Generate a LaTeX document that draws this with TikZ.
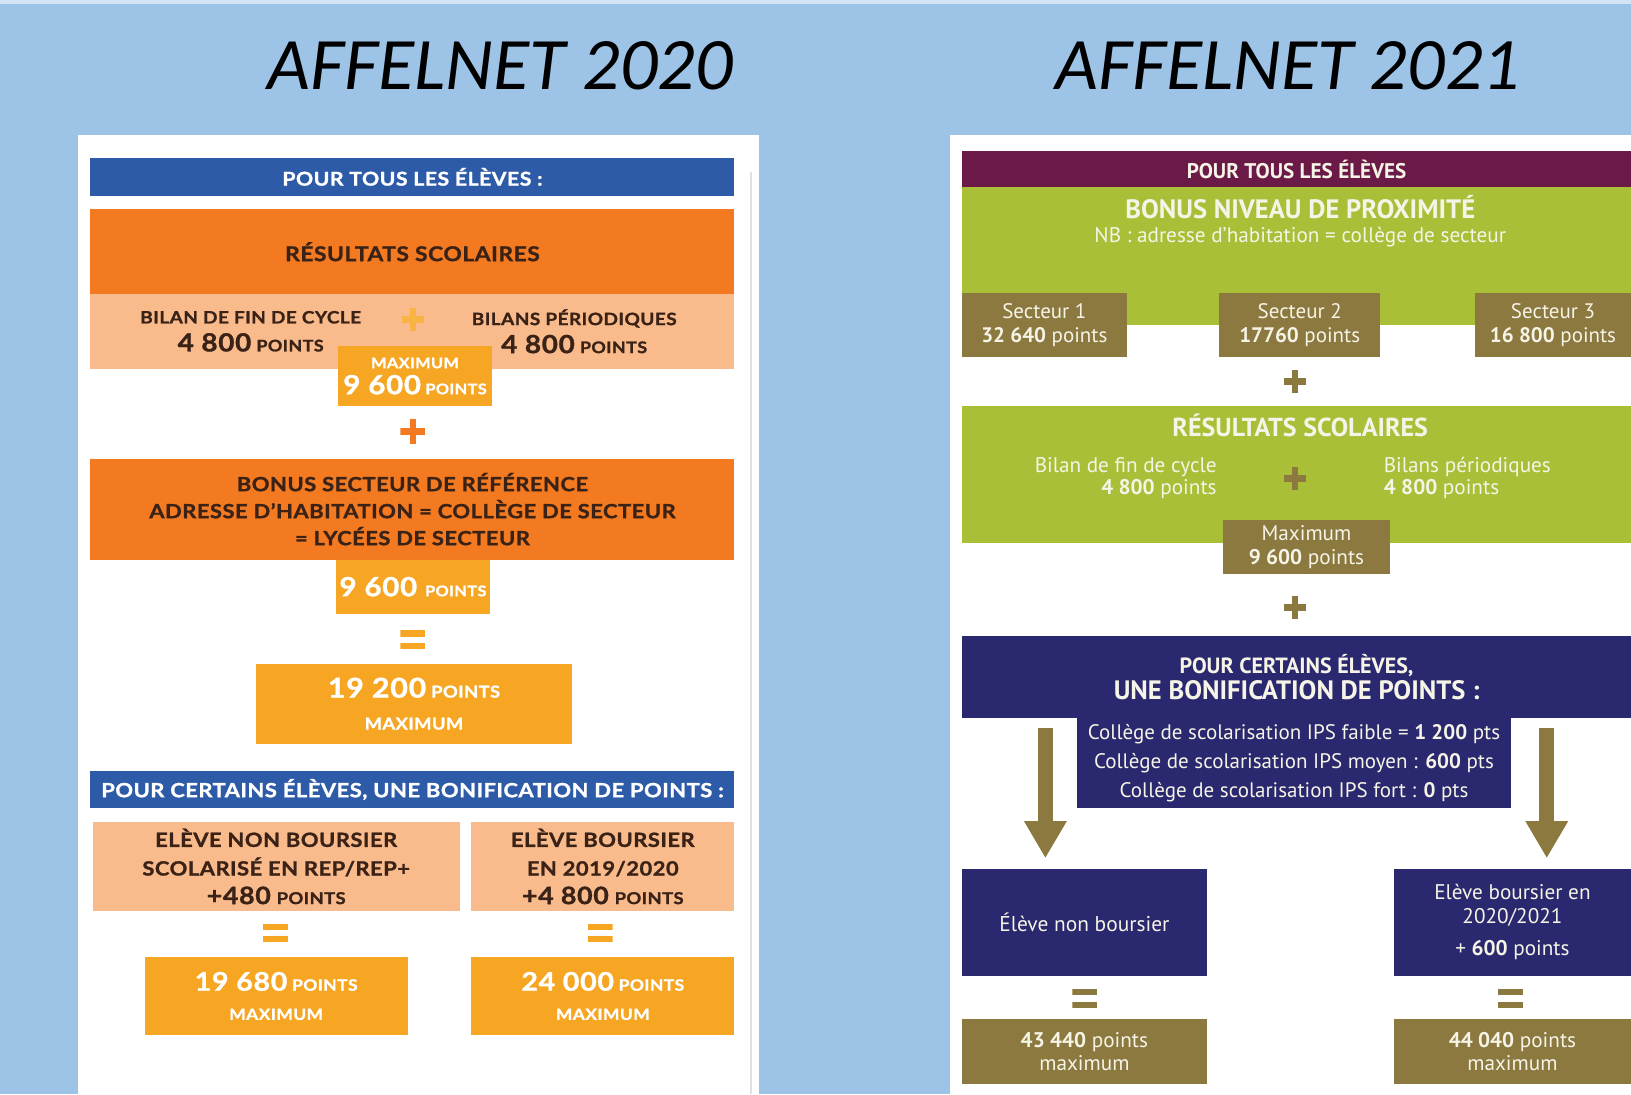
\documentclass[tikz,border=0pt]{standalone}
\usepackage{fontspec}
\setmainfont{Lato}
\newfontfamily\lfont{Lato}[FakeStretch=1.12, LetterSpace=2.5, BoldFeatures={FakeBold=1.2}]
\newfontfamily\rfont{PT Sans}
\newfontfamily\tfont{Carlito}
\usetikzlibrary{arrows.meta}

\definecolor{bgblue}{HTML}{9DC3E6}
\definecolor{lblue}{HTML}{2E5BA8}
\definecolor{lorange}{HTML}{F37A21}
\definecolor{lpeach}{HTML}{F9BB8C}
\definecolor{lyellow}{HTML}{F6A623}
\definecolor{ltext}{HTML}{3A2216}
\definecolor{rmaroon}{HTML}{6B1A48}
\definecolor{rgreen}{HTML}{A9BF38}
\definecolor{rolive}{HTML}{8B7940}
\definecolor{rnavy}{HTML}{2A286E}
\definecolor{rtext}{HTML}{F6F4E6}

\newcommand\mkbox[6]{\node[bx,#2,minimum width={(#5-#3)*0.5201pt},minimum height={(#6-#4)*0.5201pt}] (#1) at ({(#3+#5)/2},{(#4+#6)/2})}
\newcommand\setlf[2]{\lfont\bfseries\fontsize{#1}{#2}\selectfont}
\newcommand\setrf[2]{\rfont\fontsize{#1}{#2}\selectfont}
\newcommand\PTS[1]{{\fontsize{#1}{#1}\selectfont POINTS}}
\newcommand\bigsz[2]{{\fontsize{#1}{#1}\selectfont #2}}

\tikzset{
  bx/.style={inner sep=0pt, outer sep=0pt, align=center},
  lt/.style={inner sep=0pt, align=center, text=ltext},
  rt/.style={inner sep=0pt, text=rtext},
  plussign/.style={minimum width={#1*0.5201pt}, minimum height={#1*0.5201pt}, inner sep=0pt},
  pluscol/.style={path picture={
     \fill[#1] ([yshift=1.7pt]path picture bounding box.west) rectangle ([yshift=-1.7pt]path picture bounding box.east);
     \fill[#1] ([xshift=-1.7pt]path picture bounding box.north) rectangle ([xshift=1.7pt]path picture bounding box.south);}},
  eqsign/.style={minimum width={24*0.5201pt}, minimum height={18*0.5201pt}, inner sep=0pt},
  eqcol/.style={path picture={
     \fill[#1] (path picture bounding box.north west) rectangle ([yshift=1.6pt]path picture bounding box.east);
     \fill[#1] ([yshift=-1.6pt]path picture bounding box.west) rectangle (path picture bounding box.south east);}},
  bigarrow/.style={draw=rolive, line width=7.3pt, -{Triangle[width=20pt,length=18.5pt]}, shorten >=5.2pt}
}

\begin{document}
\begin{tikzpicture}[x=0.5201pt, y=-0.5201pt]
\useasboundingbox (0,0) rectangle (1568,1052);
\fill[bgblue] (0,0) rectangle (1568,1052);
\fill[bgblue!45!white] (0,0) rectangle (1568,4);
\fill[white] (75,130) rectangle (730,1052);
\draw[black!12, line width=1pt] (722,165) -- (722,1052);
\fill[white] (913,130) rectangle (1568,1052);

% titles
\node[font=\tfont\itshape\fontsize{37}{40}\selectfont] (title1) at (481,63) {AFFELNET 2020};
\node[font=\tfont\itshape\fontsize{37}{40}\selectfont] (title2) at (1238,63) {AFFELNET 2021};

% ================= LEFT =================
\mkbox{lhead1}{fill=lblue, text=white, font=\setlf{9.5}{12}}{87}{152}{706}{188}{POUR TOUS LES ÉLÈVES :};
\mkbox{lres}{fill=lorange, text=ltext, font=\setlf{10.2}{12}}{87}{201}{706}{283}{RÉSULTATS SCOLAIRES};
\mkbox{lpeach1}{fill=lpeach}{87}{283}{706}{355}{};
\node[lt, font=\setlf{8.5}{14}] (lbil1) at (241,318.5) {BILAN DE FIN DE CYCLE\\\bigsz{12.5}{4 800} \PTS{8}};
\node[lt, font=\setlf{8.5}{14}] (lbil2) at (552,318.5) {BILANS PÉRIODIQUES\\\bigsz{12.5}{4 800} \PTS{8}};
\node[plussign=22, pluscol=lyellow!85!white] (lplus0) at (397,307) {};
\mkbox{lmax}{fill=lyellow, text=white, font=\setlf{7.3}{13}}{325}{333}{473}{390}{MAXIMUM\\\bigsz{13.2}{9 600} \PTS{7.3}};
\node[plussign=24, pluscol=lorange] (lplus1) at (397,415) {};
\mkbox{lbonus}{fill=lorange, text=ltext, font=\setlf{9.8}{13.5}}{87}{441}{706}{538}{BONUS SECTEUR DE RÉFÉRENCE\\ADRESSE D’HABITATION = COLLÈGE DE SECTEUR\\= LYCÉES DE SECTEUR};
\mkbox{l9600}{fill=lyellow, text=white, font=\setlf{13.2}{14}}{323}{538}{471}{590}{9 600 \PTS{7.3}};
\node[eqsign, eqcol=lyellow] (leq1) at (397,615) {};
\mkbox{ltot}{fill=lyellow, text=white, font=\setlf{8.2}{16}}{246}{638}{550}{715}{\bigsz{13.6}{19 200} \PTS{8.2}\\MAXIMUM};
\mkbox{lhead2}{fill=lblue, text=white, font=\setlf{9.8}{12}}{87}{741}{706}{777}{POUR CERTAINS ÉLÈVES, UNE BONIFICATION DE POINTS :};
\mkbox{lnb}{fill=lpeach, text=ltext, font=\setlf{9.8}{14.3}}{89}{790}{442}{876}{ELÈVE NON BOURSIER\\SCOLARISÉ EN REP/REP+\\\bigsz{12}{+480} \PTS{8.2}};
\mkbox{lbo}{fill=lpeach, text=ltext, font=\setlf{9.8}{14.3}}{453}{790}{706}{876}{ELÈVE BOURSIER\\EN 2019/2020\\\bigsz{12}{+4 800} \PTS{8.2}};
\node[eqsign, eqcol=lyellow] (leq2) at (265,897) {};
\node[eqsign, eqcol=lyellow] (leq3) at (577,897) {};
\mkbox{ltot1}{fill=lyellow, text=white, font=\setlf{7.8}{14.6}}{139}{920}{392}{995}{\bigsz{12.8}{19 680} \PTS{7.8}\\MAXIMUM};
\mkbox{ltot2}{fill=lyellow, text=white, font=\setlf{7.8}{14.6}}{453}{920}{706}{995}{\bigsz{12.8}{24 000} \PTS{7.8}\\MAXIMUM};

% ================= RIGHT =================
\mkbox{rhead}{fill=rmaroon, text=rtext, font=\rfont\bfseries\fontsize{10.6}{11}\selectfont}{925}{145}{1568}{180}{POUR TOUS LES ÉLÈVES};
\mkbox{rgreen1}{fill=rgreen}{925}{180}{1568}{312}{};
\node[rt, font=\rfont\bfseries\fontsize{13.3}{14}\selectfont] (rbonus) at (1250,199) {BONUS NIVEAU DE PROXIMITÉ};
\node[rt, font=\setrf{10.6}{11}] (rnb) at (1250,228) {NB : adresse d’habitation = collège de secteur};
\mkbox{rs1}{fill=rolive, text=rtext, font=\setrf{10.5}{11.6}}{925}{282}{1083}{343}{Secteur 1\\\textbf{32 640} points};
\mkbox{rs2}{fill=rolive, text=rtext, font=\setrf{10.5}{11.6}}{1172}{282}{1327}{343}{Secteur 2\\\textbf{17760} points};
\mkbox{rs3}{fill=rolive, text=rtext, font=\setrf{10.5}{11.6}}{1418}{282}{1568}{343}{Secteur 3\\\textbf{16 800} points};
\node[plussign=22, pluscol=rolive] (rplus1) at (1245,367) {};
\mkbox{rgreen2}{fill=rgreen}{925}{390}{1568}{522}{};
\node[rt, font=\rfont\bfseries\fontsize{13}{14}\selectfont] (rres) at (1250,409) {RÉSULTATS SCOLAIRES};
\node[rt, align=right, anchor=east, font=\setrf{10.6}{11.2}] (rbil1) at (1170,459.5) {Bilan de fin de cycle\\\textbf{4 800} points};
\node[rt, align=left, anchor=west, font=\setrf{10.6}{11.2}] (rbil2) at (1330,459.5) {Bilans périodiques\\\textbf{4 800} points};
\node[plussign=22, pluscol=rolive] (rplus0) at (1245,460) {};
\mkbox{rmax}{fill=rolive, text=rtext, font=\setrf{10.6}{11.6}}{1176}{500}{1336}{552}{Maximum\\\textbf{9 600} points};
\node[plussign=22, pluscol=rolive] (rplus2) at (1245,584) {};
\mkbox{rnavy1}{fill=rnavy, text=rtext, font=\rfont\bfseries\fontsize{11}{13}\selectfont}{925}{611}{1568}{690}{POUR CERTAINS ÉLÈVES,\\{\fontsize{13.3}{13}\selectfont UNE BONIFICATION DE POINTS :}};
\mkbox{rnavy2}{fill=rnavy, text=rtext, font=\setrf{10.5}{14.6}}{1035}{690}{1453}{777}{Collège de scolarisation IPS faible = \textbf{1 200} pts\\Collège de scolarisation IPS moyen : \textbf{600} pts\\Collège de scolarisation IPS fort : \textbf{0} pts};
\mkbox{rnonb}{fill=rnavy, text=rtext, font=\setrf{10.7}{12}}{925}{835}{1160}{938}{Élève non boursier};
\mkbox{rbours}{fill=rnavy, text=rtext, font=\setrf{10.6}{12}}{1340}{835}{1568}{938}{Elève boursier en\\2020/2021\\[4pt]+ \textbf{600} points};
\coordinate (a1s) at (1005,700);
\coordinate (a2s) at (1487,700);
\draw[bigarrow] (a1s) -- (a1s |- rnonb.north);
\draw[bigarrow] (a2s) -- (a2s |- rbours.north);
\node[eqsign, eqcol=rolive] (req1) at (1043,960) {};
\node[eqsign, eqcol=rolive] (req2) at (1452,960) {};
\mkbox{rtot1}{fill=rolive, text=rtext, font=\setrf{10.6}{11.6}}{925}{980}{1160}{1042}{\textbf{43 440} points\\maximum};
\mkbox{rtot2}{fill=rolive, text=rtext, font=\setrf{10.6}{11.6}}{1340}{980}{1568}{1042}{\textbf{44 040} points\\maximum};
\end{tikzpicture}
\end{document}
